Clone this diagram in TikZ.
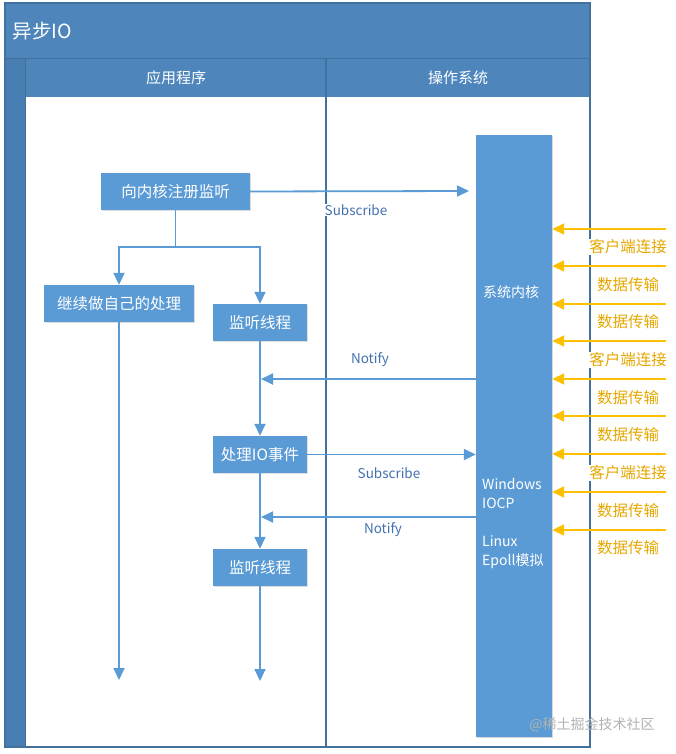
\documentclass[tikz,border=0pt]{standalone}
\usepackage{fontspec}
\setmainfont{Noto Sans CJK SC}
\usetikzlibrary{arrows.meta,shadows}
\definecolor{hdr}{RGB}{78,134,188}
\definecolor{strip}{RGB}{72,126,178}
\definecolor{frm}{RGB}{65,113,156}
\definecolor{boxc}{RGB}{91,155,213}
\definecolor{arr}{RGB}{91,155,213}
\definecolor{org}{RGB}{255,192,0}
\definecolor{orgt}{RGB}{230,168,0}
\definecolor{lbl}{RGB}{68,114,176}
\tikzset{
  stepbox/.style={fill=boxc,text=white,minimum height=37pt,inner sep=0pt,
    font=\fontsize{15.5}{18}\selectfont,drop shadow={opacity=0.25,shadow xshift=1pt,shadow yshift=-1pt}},
  flow/.style={draw=arr,line width=1.8pt,-{Triangle[length=12pt,width=11pt]}},
  plain/.style={draw=arr,line width=1.8pt},
  inarr/.style={draw=org,line width=2pt,-{Triangle[length=12pt,width=11pt]}},
  olbl/.style={text=orgt,fill=white,inner sep=1pt,font=\fontsize{15.5}{18}\selectfont},
  blbl/.style={text=lbl,font=\fontsize{13.5}{16}\selectfont,inner sep=1pt},
  klbl/.style={text=white,anchor=west,inner sep=0pt,font=\fontsize{14}{17}\selectfont}
}
\begin{document}
\begin{tikzpicture}[x=1pt,y=-1pt]
\useasboundingbox (0,0) rectangle (676,754);
% frame
\fill[white] (5,3) rectangle (590,747);
\fill[hdr] (5,3) rectangle (590,97);
\fill[strip] (5,58) rectangle (25,747);
\draw[frm,line width=0.8pt] (5,58) -- (590,58);
\draw[frm,line width=1.2pt] (5,3) rectangle (590,747);
\draw[frm,line width=1pt] (25,58) -- (25,747);
\draw[frm,line width=1.2pt] (326,58) -- (326,747);
\node[text=white,anchor=west,font=\fontsize{19.5}{22}\selectfont] (title) at (9,31) {异步IO};
\node[text=white,font=\fontsize{15}{17}\selectfont] (lane1) at (176,78) {应用程序};
\node[text=white,font=\fontsize{15}{17}\selectfont] (lane2) at (458,78) {操作系统};

% kernel bar
\node[fill=boxc,minimum width=76pt,minimum height=602pt,inner sep=0pt,
  drop shadow={opacity=0.3,shadow xshift=1pt,shadow yshift=-1pt}] (kern) at (514,436) {};
\node[klbl] (k1) at (483,292) {系统内核};
\node[klbl] (k2) at (482,484) {Windows};
\node[klbl] (k3) at (482,503) {IOCP};
\node[klbl] (k4) at (482,541) {Linux};
\node[klbl] (k5) at (482,561) {Epoll模拟};

% boxes
\node[stepbox,minimum width=149pt] (reg) at (175.5,191.5) {向内核注册监听};
\node[stepbox,minimum width=150pt] (cont) at (119,303.5) {继续做自己的处理};
\node[stepbox,minimum width=94pt] (lis1) at (260,322.5) {监听线程};
\node[stepbox,minimum width=94pt] (proc) at (260,454.5) {处理IO事件};
\node[stepbox,minimum width=94pt] (lis2) at (260,567.5) {监听线程};

\coordinate (split) at (175.5,247);
\coordinate (endL) at (119,680);
\coordinate (endR) at (260,681);
\coordinate (n1) at (261,379);
\coordinate (n2) at (261,517);
\coordinate (sub1end) at (469,191);

% subscribe 1
\draw[flow] (reg.east) -- (sub1end);
\node[blbl,fill=white] (sub1) at (356,210) {Subscribe};
% branch
\draw[plain] (reg.south) -- (split);
\draw[flow] (split) -| (cont.north);
\draw[flow] (split) -| (lis1.north);
\draw[flow] (cont.south) -- (endL);
\draw[flow] (lis1.south) -- (proc.north);
\draw[flow] (proc.south) -- (lis2.north);
\draw[flow] (lis2.south) -- (endR);
% notify / subscribe
\draw[flow] (kern.west |- n1) -- (n1);
\node[blbl] (not1) at (370,360) {Notify};
\draw[flow] (proc.east) -- (kern.west |- proc.east);
\node[blbl] (sub2) at (389,473) {Subscribe};
\draw[flow] (kern.west |- n2) -- (n2);
\node[blbl] (not2) at (383,530) {Notify};

% incoming orange arrows
\foreach \y/\i in {229/1,266/2,304/3,341/4,379/5,416/6,454/7,492/8,530/9}{
  \coordinate (s\i) at (666,\y);
  \draw[inarr] (s\i) -- (kern.east |- s\i);
}
\node[olbl] (o1) at (628,247) {客户端连接};
\node[olbl] (o2) at (628,285) {数据传输};
\node[olbl] (o3) at (628,322) {数据传输};
\node[olbl] (o4) at (628,360) {客户端连接};
\node[olbl] (o5) at (628,398) {数据传输};
\node[olbl] (o6) at (628,435) {数据传输};
\node[olbl] (o7) at (628,473) {客户端连接};
\node[olbl] (o8) at (628,511) {数据传输};
\node[olbl] (o9) at (628,548) {数据传输};

% watermark
\node[text=black!30,font=\fontsize{14}{16}\selectfont] (wm) at (592,725) {@稀土掘金技术社区};
\end{tikzpicture}
\end{document}
